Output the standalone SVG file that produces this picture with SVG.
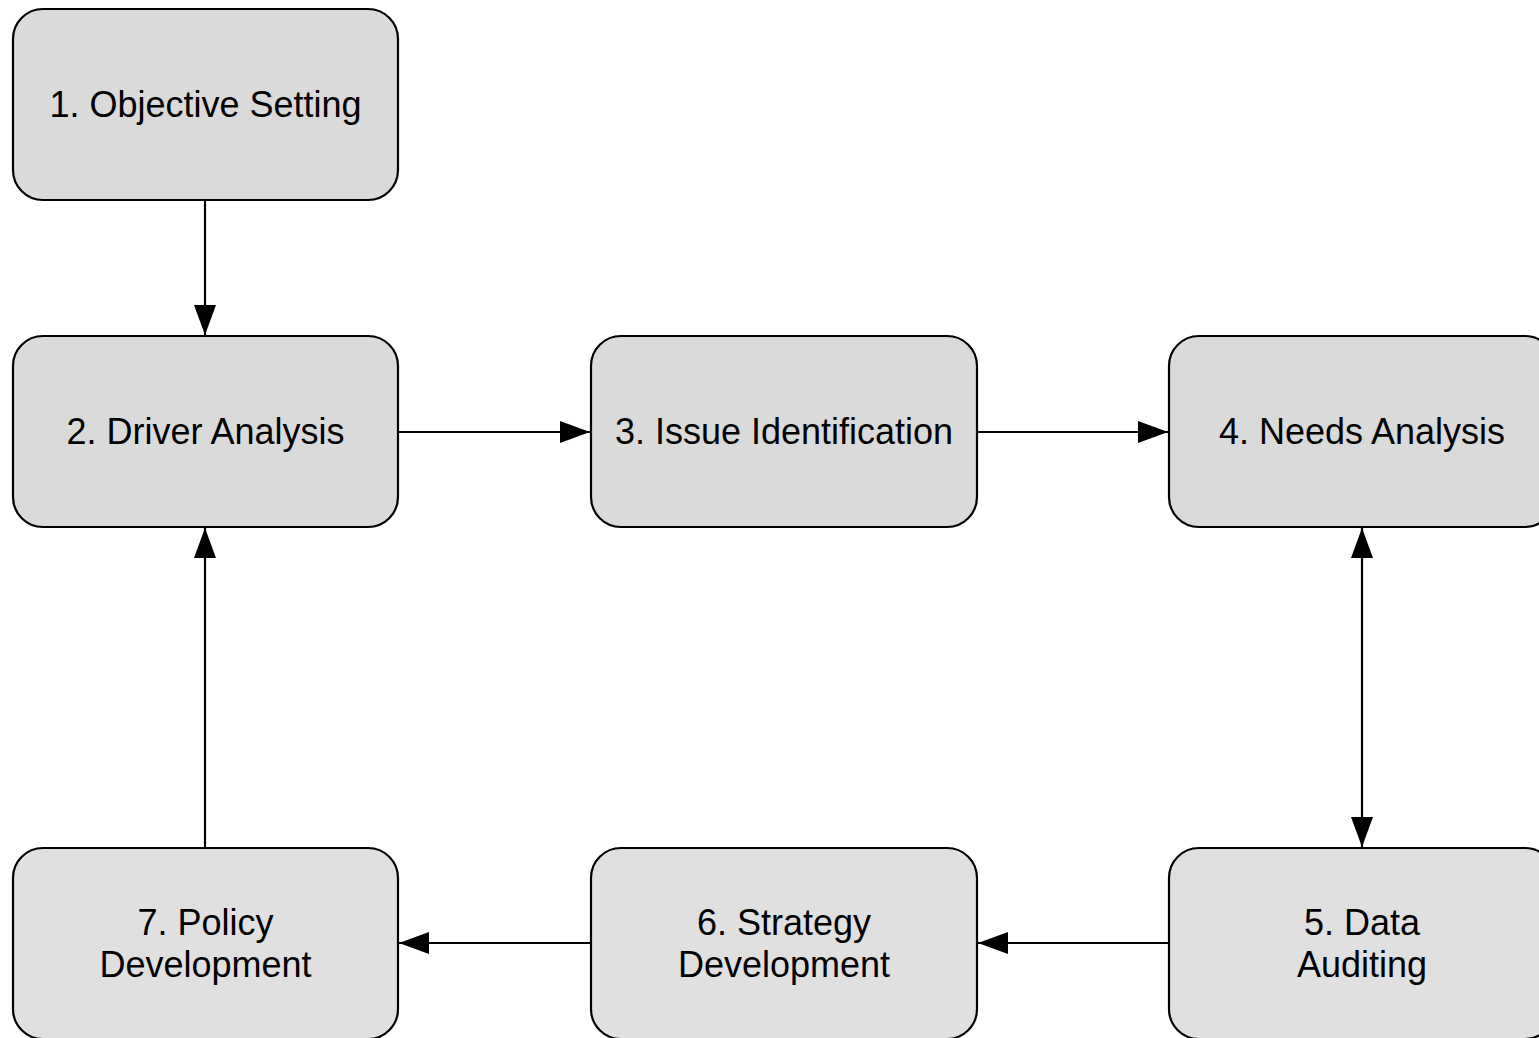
<svg xmlns="http://www.w3.org/2000/svg" width="1539" height="1038" viewBox="0 0 1539 1038">
<style>
.box{fill:#dadada;stroke:#000;stroke-width:2.2}
.box2{fill:#e0e0e0;stroke:#000;stroke-width:2.2}
.lbl{font-family:"Liberation Sans",Arial,Helvetica,sans-serif;font-size:36px;fill:#000;text-anchor:middle}
.edge{stroke:#000;stroke-width:2.2;fill:none}
</style>
<defs>
<marker id="ah" viewBox="0 0 30 22" refX="30" refY="11" markerWidth="30" markerHeight="22" markerUnits="userSpaceOnUse" orient="auto-start-reverse">
<path d="M0,0 L30,11 L0,22 Z" fill="#000"/>
</marker>
</defs>
<rect width="1539" height="1038" fill="#fff"/>
<g id="connectors">
<line class="edge" x1="205" y1="200" x2="205" y2="335" marker-end="url(#ah)"/>
<line class="edge" x1="398" y1="432" x2="590" y2="432" marker-end="url(#ah)"/>
<line class="edge" x1="977" y1="432" x2="1168" y2="432" marker-end="url(#ah)"/>
<line class="edge" x1="1362" y1="528" x2="1362" y2="847" marker-start="url(#ah)" marker-end="url(#ah)"/>
<line class="edge" x1="1169" y1="943" x2="978" y2="943" marker-end="url(#ah)"/>
<line class="edge" x1="591" y1="943" x2="399" y2="943" marker-end="url(#ah)"/>
<line class="edge" x1="205" y1="848" x2="205" y2="528" marker-end="url(#ah)"/>
</g>
<g id="n1"><rect class="box" x="13" y="9" width="385" height="191" rx="30"/><text class="lbl" x="205.5" y="117">1. Objective Setting</text></g>
<g id="n2"><rect class="box" x="13" y="336" width="385" height="191" rx="30"/><text class="lbl" x="205.5" y="444">2. Driver Analysis</text></g>
<g id="n3"><rect class="box" x="591" y="336" width="386" height="191" rx="30"/><text class="lbl" x="784" y="444">3. Issue Identification</text></g>
<g id="n4"><rect class="box" x="1169" y="336" width="386" height="191" rx="30"/><text class="lbl" x="1362" y="444">4. Needs Analysis</text></g>
<g id="n5"><rect class="box2" x="1169" y="848" width="386" height="191" rx="30"/><text class="lbl" x="1362" y="935">5. Data</text><text class="lbl" x="1362" y="977">Auditing</text></g>
<g id="n6"><rect class="box2" x="591" y="848" width="386" height="191" rx="30"/><text class="lbl" x="784" y="935">6. Strategy</text><text class="lbl" x="784" y="977">Development</text></g>
<g id="n7"><rect class="box2" x="13" y="848" width="385" height="191" rx="30"/><text class="lbl" x="205.5" y="935">7. Policy</text><text class="lbl" x="205.5" y="977">Development</text></g>
</svg>
